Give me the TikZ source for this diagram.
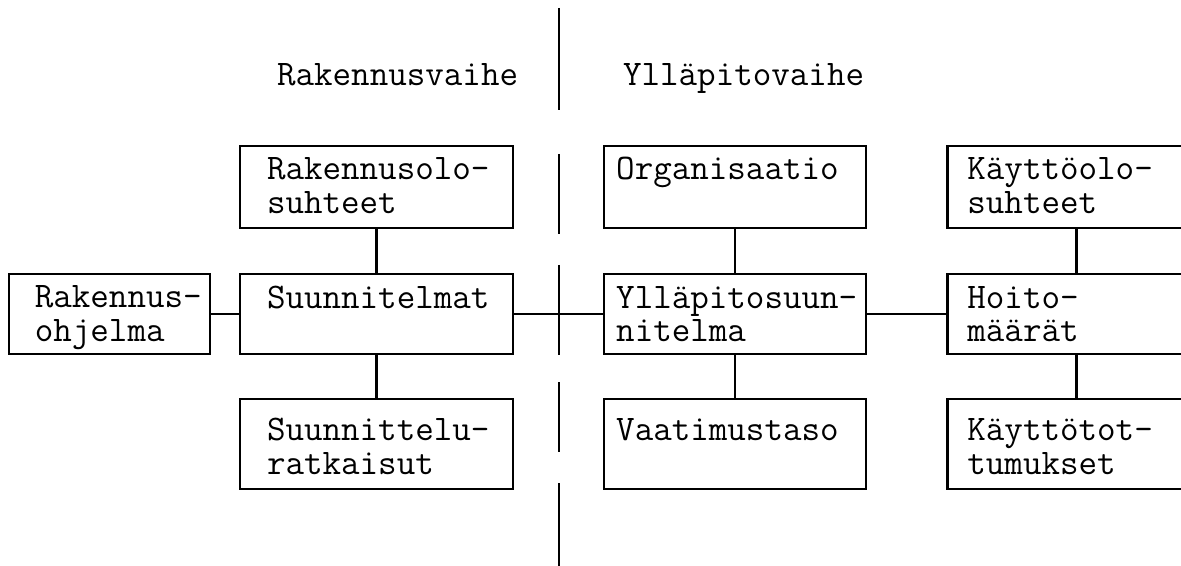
\documentclass[tikz,border=0pt]{standalone}
\usetikzlibrary{positioning}

\begin{document}
\begin{tikzpicture}[
  x=0.5pt, y=-0.5pt,
  tt/.style={font=\fontsize{18}{17}\selectfont\ttfamily},
  box/.style={tt, draw, line width=1.1pt, minimum height=41pt, inner ysep=0pt, align=left,
    execute at begin node=\rule{0pt}{13.5pt}, execute at end node=\rule[-4pt]{0pt}{4pt}},
  midbox/.style={box, minimum height=40pt, execute at begin node=\rule{0pt}{15pt}},
  lowbox/.style={box, minimum height=45pt, execute at begin node=\rule{0pt}{17.5pt}},
  colA/.style={text width=74.5pt, inner xsep=13pt},
  colL/.style={text width=109.5pt, inner xsep=13.5pt},
  colM/.style={text width=119pt, inner xsep=6pt},
  colR/.style={text width=109pt, inner xsep=10pt},
  link/.style={line width=1.2pt},
  divider/.style={line width=1.4pt},
  node distance=22pt and 14pt
]
  \useasboundingbox (0,0) rectangle (1181,566);
  \clip (0,0) rectangle (1181,566);

  \node[tt, anchor=base west] (rvaihe) at (270,86) {Rakennusvaihe};
  \node[tt, anchor=base west] (yvaihe) at (616,86) {Ylläpitovaihe};
  \foreach \ya/\yb in {8/110, 154/234, 265/355, 382/452, 483/570}
    \draw[divider] (559,\ya) -- (559,\yb);

  \node[midbox, colL] (suunn) at (376.5,314) {Suunnitelmat\\ \mbox{}};
  \node[midbox, colA, left=of suunn] (ohjelma) {Rakennus-\\ohjelma};
  \node[midbox, colM, right=44.5pt of suunn] (ysuunn) {Ylläpitosuun-\\nitelma};
  \node[midbox, colR, right=39.5pt of ysuunn] (hoito) {Hoito-\\määrät};

  \node[box, colL, above=of suunn] (rolo) {Rakennusolo-\\suhteet};
  \node[box, colM, above=of ysuunn] (org) {Organisaatio\\ \mbox{}};
  \node[box, colR, above=of hoito] (kolo) {Käyttöolo-\\suhteet};

  \node[lowbox, colL, below=21.5pt of suunn] (ratk) {Suunnittelu-\\ratkaisut};
  \node[lowbox, colM, below=21.5pt of ysuunn] (vaat) {Vaatimustaso\\ \mbox{}};
  \node[lowbox, colR, below=21.5pt of hoito] (ktot) {Käyttötot-\\tumukset};

  \draw[link] (ohjelma) -- (suunn);
  \draw[link] (suunn) -- (ysuunn);
  \draw[link] (ysuunn) -- (hoito);
  \draw[link] (rolo) -- (suunn);
  \draw[link] (suunn) -- (ratk);
  \draw[link] (org) -- (ysuunn);
  \draw[link] (ysuunn) -- (vaat);
  \draw[link] (kolo) -- (hoito);
  \draw[link] (hoito) -- (ktot);
\end{tikzpicture}
\end{document}
